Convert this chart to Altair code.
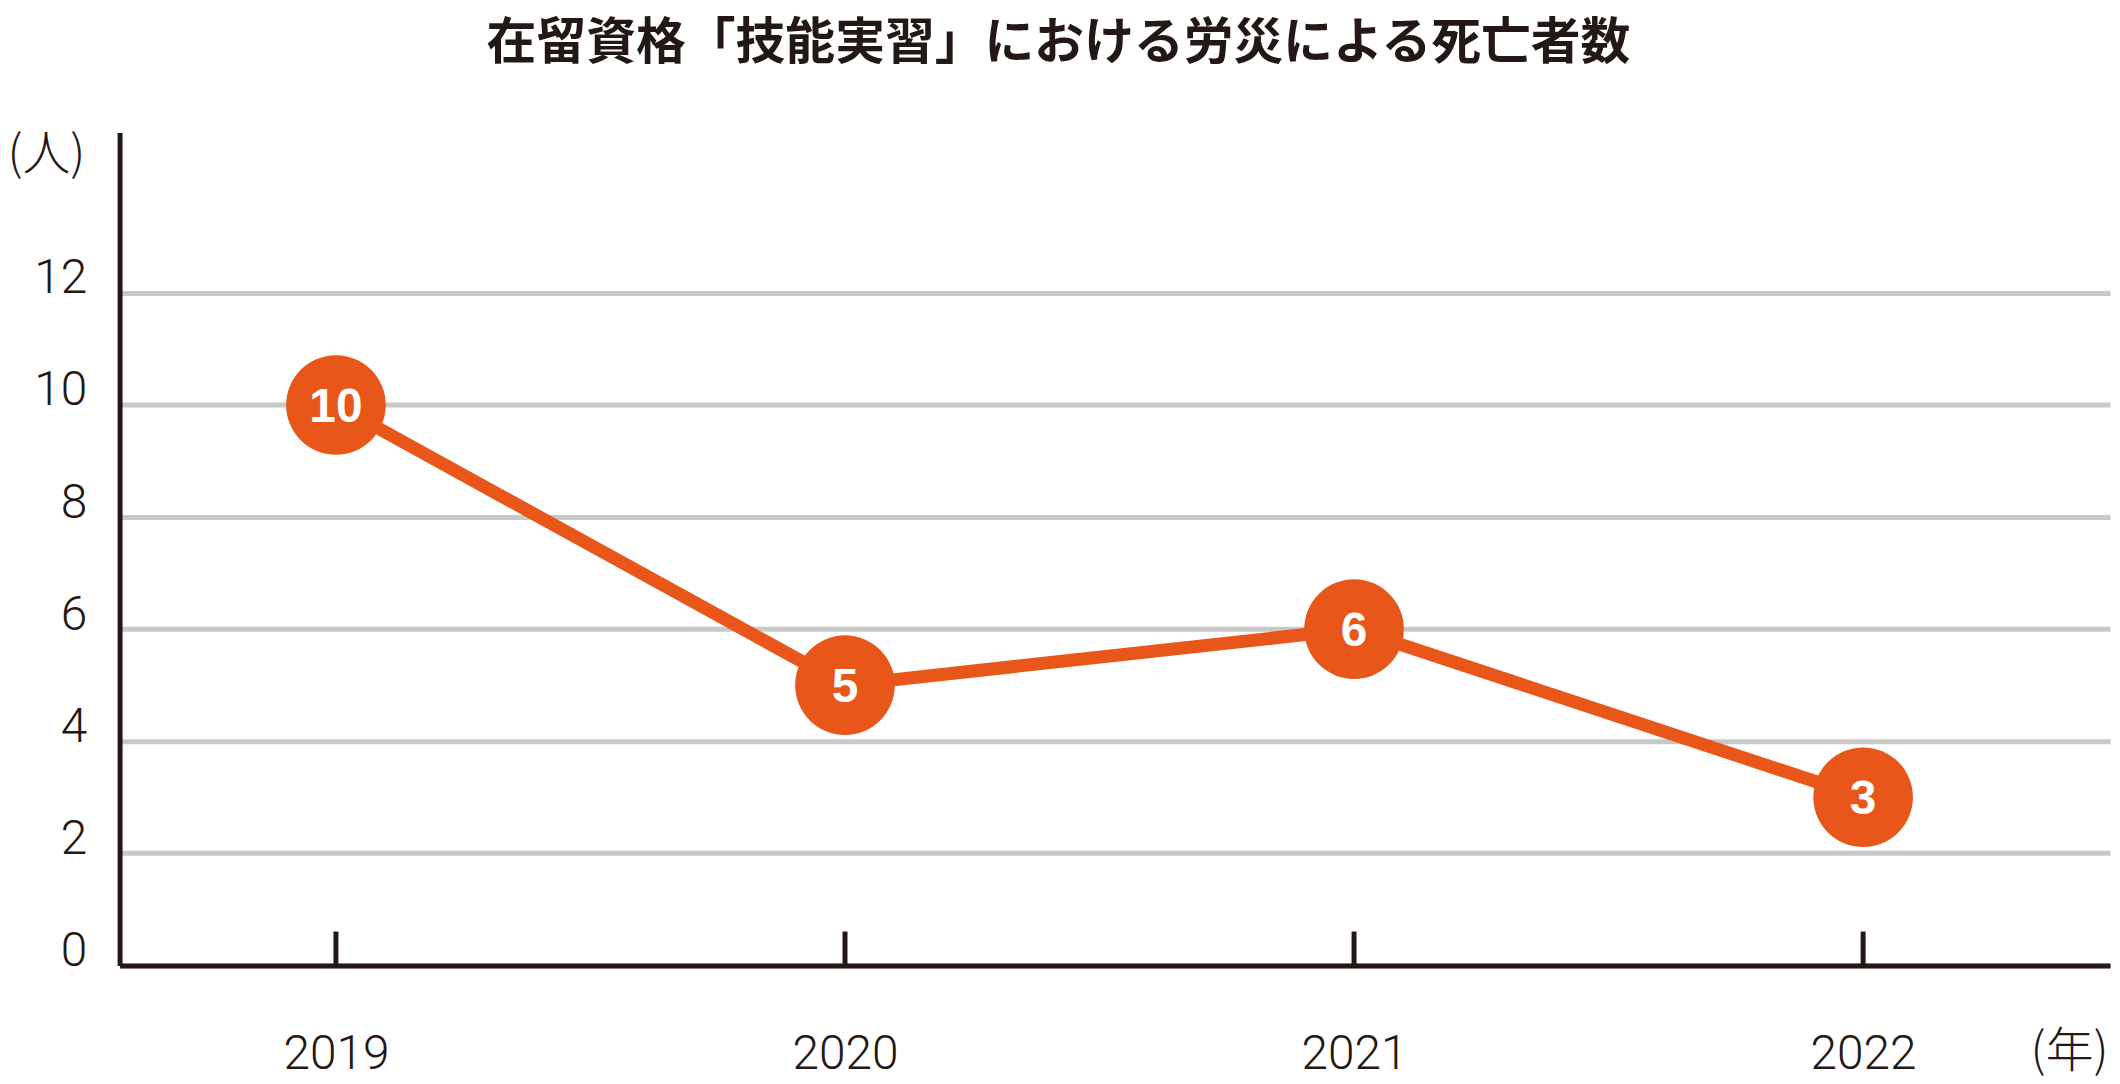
import altair as alt
import pandas as pd

# Data
years = [2019, 2020, 2021, 2022]
deaths = [10, 5, 6, 3]
y_ticks = [0, 2, 4, 6, 8, 10, 12]
title_text = "在留資格「技能実習」における労災による死亡者数"
y_unit = "(人)"
x_unit = "(年)"

df = pd.DataFrame({"year": years, "deaths": deaths})

ORANGE = "#E8561A"
INK = "#231815"
NUM_FONT = "Roboto"
JP_FONT = "Noto Sans CJK JP"

PLOT_W = 1998
PLOT_H = 836

x_enc = alt.X(
    "year:Q",
    scale=alt.Scale(domain=[2018.575, 2022.485], nice=False, zero=False),
    axis=alt.Axis(
        values=years,
        format="d",
        ticks=False,
        grid=False,
        domainColor=INK,
        domainWidth=5,
        labelFont=NUM_FONT,
        labelFontSize=48,
        labelFontWeight=300,
        labelColor=INK,
        labelPadding=103,
        labelBaseline="alphabetic",
        title=x_unit,
        titleFont=JP_FONT,
        titleFontSize=48,
        titleFontWeight=300,
        titleColor=INK,
        titleAlign="right",
        titleBaseline="alphabetic",
        titleAngle=0,
        titleX=1996,
        titleY=101,
    ),
)

y_enc = alt.Y(
    "deaths:Q",
    scale=alt.Scale(domain=[0, 14.86], nice=False),
    axis=alt.Axis(
        values=y_ticks,
        ticks=False,
        grid=True,
        gridColor="#C8C8C8",
        gridWidth=5,
        domainColor=INK,
        domainWidth=5,
        labelFont=NUM_FONT,
        labelFontSize=48,
        labelFontWeight=300,
        labelColor=INK,
        labelPadding=33,
        labelBaseline="alphabetic",
        title=y_unit,
        titleFont=JP_FONT,
        titleFontSize=48,
        titleFontWeight=300,
        titleColor=INK,
        titleAngle=0,
        titleAlign="left",
        titleBaseline="alphabetic",
        titleX=-113,
        titleY=37,
    ),
)

base = alt.Chart(df)

line = base.mark_line(color=ORANGE, strokeWidth=13).encode(x=x_enc, y=y_enc)

ticks = base.mark_rule(color=INK, strokeWidth=5).encode(
    x="year:Q",
    y=alt.value(PLOT_H - 34),
    y2=alt.value(PLOT_H),
)

points = base.mark_circle(color=ORANGE, opacity=1, size=10000).encode(
    x="year:Q", y="deaths:Q"
)

labels = base.mark_text(
    font="Liberation Sans",
    fontWeight="bold",
    fontSize=48,
    color="white",
    align="center",
    baseline="alphabetic",
    dy=17,
).encode(x="year:Q", y="deaths:Q", text="deaths:Q")

chart = (
    alt.layer(line, ticks, points, labels)
    .properties(
        width=PLOT_W,
        height=PLOT_H,
        background="white",
        padding={"left": 112, "top": 123, "right": 2, "bottom": 116},
        autosize=alt.AutoSizeParams(type="none"),
        title=alt.TitleParams(
            text=title_text,
            font=JP_FONT,
            fontSize=50,
            fontWeight="bold",
            color=INK,
            anchor="middle",
            frame="bounds",
            offset=63,
        ),
    )
    .configure_view(stroke="transparent", strokeWidth=0)
)

chart.save("out.html", embed_options={"renderer": "svg", "actions": False})
